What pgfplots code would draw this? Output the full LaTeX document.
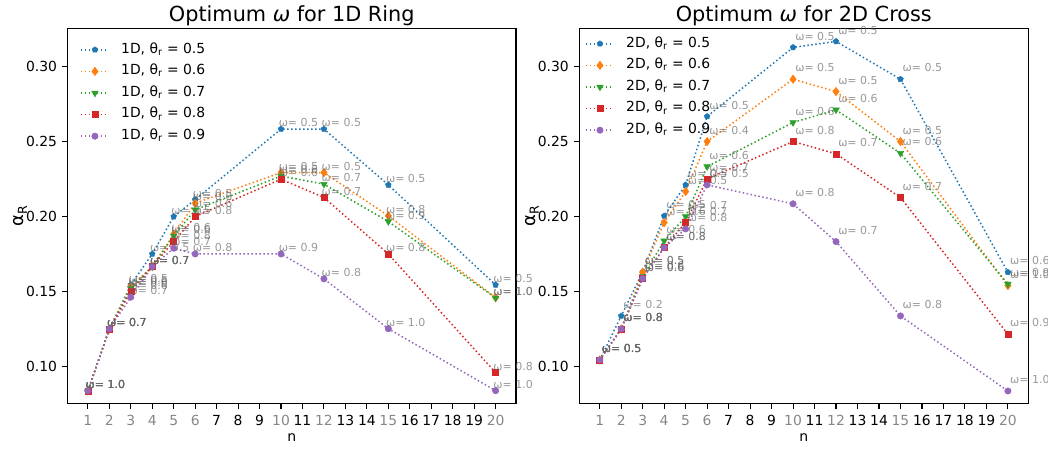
\documentclass[border=0pt]{standalone}
\usepackage{fontspec}
\setmainfont{DejaVu Sans}
\usepackage{pgfplots}
\usepackage{pgfplotstable}
\pgfplotsset{compat=1.18}
\usetikzlibrary{plotmarks}
\definecolor{C0}{HTML}{1F77B4}
\definecolor{C1}{HTML}{FF7F0E}
\definecolor{C2}{HTML}{2CA02C}
\definecolor{C3}{HTML}{D62728}
\definecolor{C4}{HTML}{9467BD}

% ---------- 1D ring ----------
\pgfplotstableread{
n y w
1 0.0838 1.0
2 0.1251 0.7
3 0.1545 0.5
4 0.1751 0.5
5 0.2000 0.5
6 0.2113 0.5
10 0.2583 0.5
12 0.2583 0.5
15 0.2211 0.5
20 0.1545 0.5
}\Aa
\pgfplotstableread{
n y w
1 0.0838 1.0
2 0.1251 0.7
3 0.1534 0.6
4 0.1667 0.7
5 0.1883 0.6
6 0.2089 0.6
10 0.2293 0.5
12 0.2293 0.5
15 0.2005 0.8
20 0.1460 1.0
}\Ab
\pgfplotstableread{
n y w
1 0.0838 1.0
2 0.1251 0.7
3 0.1520 0.6
4 0.1667 0.7
5 0.1871 0.6
6 0.2045 0.6
10 0.2270 0.6
12 0.2216 0.7
15 0.1967 0.9
20 0.1458 1.0
}\Ac
\pgfplotstableread{
n y w
1 0.0838 1.0
2 0.1251 0.7
3 0.1500 0.6
4 0.1667 0.7
5 0.1833 0.8
6 0.2000 0.8
10 0.2249 0.6
12 0.2127 0.7
15 0.1751 0.8
20 0.0960 0.8
}\Ad
\pgfplotstableread{
n y w
1 0.0838 1.0
2 0.1251 0.7
3 0.1463 0.7
4 0.1667 0.7
5 0.1789 0.7
6 0.1751 0.8
10 0.1751 0.9
12 0.1585 0.8
15 0.1253 1.0
20 0.0840 1.0
}\Ae

% ---------- 2D cross ----------
\pgfplotstableread{
n y w
1 0.1045 0.5
2 0.1338 0.2
3 0.1630 0.5
4 0.2004 0.5
5 0.2211 0.5
6 0.2667 0.5
10 0.3127 0.5
12 0.3167 0.5
15 0.2915 0.5
20 0.1629 0.6
}\Ba
\pgfplotstableread{
n y w
1 0.1045 0.5
2 0.1251 0.8
3 0.1629 0.5
4 0.1960 0.6
5 0.2167 0.5
6 0.2500 0.4
10 0.2915 0.5
12 0.2833 0.5
15 0.2500 0.5
20 0.1540 1.0
}\Bb
\pgfplotstableread{
n y w
1 0.1045 0.5
2 0.1251 0.8
3 0.1600 0.6
4 0.1838 0.6
5 0.2000 0.7
6 0.2333 0.6
10 0.2627 0.6
12 0.2711 0.6
15 0.2422 0.6
20 0.1550 0.9
}\Bc
\pgfplotstableread{
n y w
1 0.1045 0.5
2 0.1251 0.8
3 0.1587 0.6
4 0.1793 0.8
5 0.1960 0.7
6 0.2251 0.7
10 0.2500 0.8
12 0.2418 0.7
15 0.2127 0.7
20 0.1216 0.9
}\Bd
\pgfplotstableread{
n y w
1 0.1045 0.5
2 0.1251 0.8
3 0.1587 0.6
4 0.1793 0.8
5 0.1918 0.8
6 0.2211 0.5
10 0.2085 0.8
12 0.1833 0.7
15 0.1338 0.8
20 0.0838 1.0
}\Be

\newcommand\G[1]{\textcolor{black!47}{#1}}

\pgfplotsset{
  common/.style={
    scale only axis,
    anchor=south west,
    height=374.5pt,
    xmin=0.05, xmax=20.95,
    ymin=0.0756, ymax=0.3251,
    clip=false,
    axis line style={line width=1.1pt},
    tick style={line width=1.1pt, black},
    major tick length=5.5pt,
    tick align=outside,
    xtick pos=bottom, ytick pos=left,
    xtick={1,...,20},
    xticklabels={\G{1},\G{2},\G{3},\G{4},\G{5},\G{6},7,8,9,\G{10},11,\G{12},13,14,\G{15},16,17,18,19,\G{20}},
    ytick={0.10,0.15,0.20,0.25,0.30},
    yticklabel style={/pgf/number format/fixed, /pgf/number format/fixed zerofill,
      /pgf/number format/precision=2, /pgf/number format/assume math mode=true},
    ticklabel style={font=\fontsize{13.9}{14}\selectfont},
    xticklabel style={anchor=north, inner sep=0pt, yshift=-6.4pt},
    yticklabel style={anchor=east, inner sep=0pt, xshift=-4.8pt},
    xlabel={n},
    ylabel={α\textsubscript{R}},
    xlabel style={font=\fontsize{14}{15}\selectfont, at={([yshift=-34pt]axis description cs:0.5,0)}, anchor=center, inner sep=0pt},
    ylabel style={font=\fontsize{18}{19}\selectfont, at={([xshift=-47pt]axis description cs:0,0.5)}, anchor=center, inner sep=0pt},
    title style={font=\fontsize{20.8}{22}\selectfont, at={([yshift=1pt]axis description cs:0.5,1)}, anchor=base, inner sep=0pt},
    legend style={draw=none, fill=none, inner sep=0pt, row sep=8pt,
      font=\fontsize{13.9}{14}\selectfont,
      nodes={inner sep=0pt, text height=10.2pt, text depth=3.4pt},
      /tikz/every odd column/.append style={column sep=11.5pt}},
    legend cell align=left,
    legend image code/.code={\draw[mark repeat=2,mark phase=2] plot coordinates {(0pt,0pt) (14pt,0pt) (28pt,0pt)};},
    every axis plot/.append style={line width=1.5pt, dash pattern=on 1.5pt off 2.5pt},
    point meta=explicit symbolic,
    nodes near coords={ω= \pgfplotspointmeta},
    every node near coord/.append style={anchor=base west, inner sep=0pt,
      font=\fontsize{11}{12}\selectfont, text=black!60, text opacity=0.67},
  },
  sA/.style={C0, mark=pentagon*, mark size=3pt, mark options={solid, fill=C0, line width=0.5pt}},
  sB/.style={C1, mark=diamond*, mark size=4.2pt, mark options={solid, fill=C1, line width=0.5pt}},
  sC/.style={C2, mark=triangle*, mark size=3.8pt, mark options={solid, fill=C2, rotate=180, line width=0.5pt}},
  sD/.style={C3, mark=square*, mark size=3pt, mark options={solid, fill=C3, line width=0.5pt}},
  sE/.style={C4, mark=*, mark size=3.2pt, mark options={solid, fill=C4, line width=0.5pt}},
}

\begin{document}
\begin{tikzpicture}
\useasboundingbox (0,0) rectangle (1048pt,452pt);
\begin{axis}[common, at={(67.5pt,48.7pt)}, width=448.5pt,
  title={Optimum \textit{ω} for 1D Ring},
  legend style={at={(axis description cs:0,1)}, anchor=north west, xshift=12.5pt, yshift=-14pt},
  every node near coord/.append style={xshift=-2.5pt, yshift=2.5pt}]
\addplot[sA] table[x=n, y=y, meta=w] {\Aa};
\addlegendentry{1D, θ\textsubscript{r} = 0.5}
\addplot[sB] table[x=n, y=y, meta=w] {\Ab};
\addlegendentry{1D, θ\textsubscript{r} = 0.6}
\addplot[sC] table[x=n, y=y, meta=w] {\Ac};
\addlegendentry{1D, θ\textsubscript{r} = 0.7}
\addplot[sD] table[x=n, y=y, meta=w] {\Ad};
\addlegendentry{1D, θ\textsubscript{r} = 0.8}
\addplot[sE] table[x=n, y=y, meta=w] {\Ae};
\addlegendentry{1D, θ\textsubscript{r} = 0.9}
\end{axis}
\begin{axis}[common, at={(579.3pt,48.7pt)}, width=449pt,
  title={Optimum \textit{ω} for 2D Cross},
  legend style={at={(axis description cs:0,1)}, anchor=north west, xshift=5.7pt, yshift=-8pt},
  every node near coord/.append style={xshift=2pt, yshift=7.3pt}]
\addplot[sA] table[x=n, y=y, meta=w] {\Ba};
\addlegendentry{2D, θ\textsubscript{r} = 0.5}
\addplot[sB] table[x=n, y=y, meta=w] {\Bb};
\addlegendentry{2D, θ\textsubscript{r} = 0.6}
\addplot[sC] table[x=n, y=y, meta=w] {\Bc};
\addlegendentry{2D, θ\textsubscript{r} = 0.7}
\addplot[sD] table[x=n, y=y, meta=w] {\Bd};
\addlegendentry{2D, θ\textsubscript{r} = 0.8}
\addplot[sE] table[x=n, y=y, meta=w] {\Be};
\addlegendentry{2D, θ\textsubscript{r} = 0.9}
\end{axis}
\end{tikzpicture}
\end{document}
